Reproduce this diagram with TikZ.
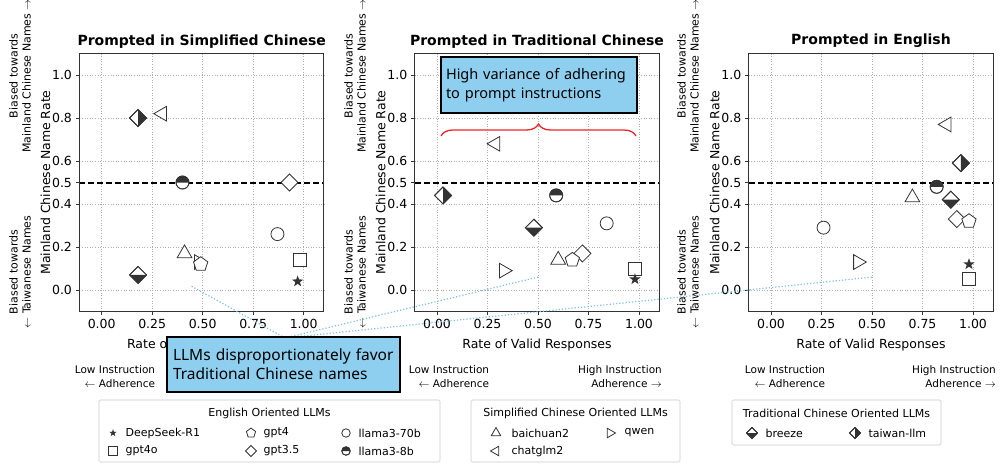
\documentclass[tikz,border=0pt]{standalone}
\usepackage{fontspec}
\setmainfont{DejaVu Sans}
\newfontfamily\callf{Noto Sans}
\usetikzlibrary{decorations.pathreplacing}
\definecolor{mkc}{HTML}{333333}
\definecolor{gridc}{HTML}{B0B0B0}
\definecolor{callc}{HTML}{8ECFF0}
\definecolor{linec}{HTML}{7EC0E0}
\definecolor{bracec}{HTML}{E8262A}
\tikzset{
  mkd/.style={draw=mkc,line width=0.8pt,fill=white},
  mkf/.style={fill=mkc},
  gridl/.style={gridc,dotted,line width=0.6pt},
  ticklab/.style={font=\fontsize{12.5}{14}\selectfont},
  side/.style={font=\fontsize{11}{13}\selectfont,align=center,rotate=90},
  adh/.style={font=\fontsize{10.5}{14}\selectfont,align=right},
  callout/.style={draw=black,line width=1.2pt,fill=callc,align=left,font=\callf\fontsize{15.5}{19}\selectfont,inner sep=6pt},
  leg/.style={draw=gridc!70,rounded corners=1.5pt,line width=0.6pt},
  legt/.style={font=\fontsize{11}{13}\selectfont,anchor=west},
  legh/.style={font=\fontsize{11}{13}\selectfont}
}
\newcommand\at[3][]{\begin{scope}[shift={(#2)},#1]#3\end{scope}}
\newcommand\mStar{\fill[mkf] (90:6pt) -- (126:2.4pt) -- (162:6pt) -- (198:2.4pt) -- (234:6pt) -- (270:2.4pt) -- (306:6pt) -- (342:2.4pt) -- (18:6pt) -- (54:2.4pt) -- cycle;}
\newcommand\mSq{\draw[mkd] (-6.5pt,-6.5pt) rectangle (6.5pt,6.5pt);}
\newcommand\mCirc{\draw[mkd] (0,0) circle (6.5pt);}
\newcommand\mHalfC{\draw[mkd] (0,0) circle (6.5pt); \fill[mkf] (6.5pt,0) arc (0:180:6.5pt) -- cycle; \draw[draw=mkc,line width=0.8pt] (0,0) circle (6.5pt);}
\newcommand\mPent{\draw[mkd] (90:7.5pt) -- (162:7.5pt) -- (234:7.5pt) -- (306:7.5pt) -- (18:7.5pt) -- cycle;}
\newcommand\mDia{\draw[mkd] (0,8.5pt) -- (8.5pt,0) -- (0,-8.5pt) -- (-8.5pt,0) -- cycle;}
\newcommand\mBreeze{\draw[mkd] (0,8.5pt) -- (8.5pt,0) -- (0,-8.5pt) -- (-8.5pt,0) -- cycle; \fill[mkf] (-8.5pt,0) -- (8.5pt,0) -- (0,-8.5pt) -- cycle; \draw[draw=mkc,line width=0.8pt] (0,8.5pt) -- (8.5pt,0) -- (0,-8.5pt) -- (-8.5pt,0) -- cycle;}
\newcommand\mTW{\draw[mkd] (0,8.5pt) -- (8.5pt,0) -- (0,-8.5pt) -- (-8.5pt,0) -- cycle; \fill[mkf] (0,8.5pt) -- (8.5pt,0) -- (0,-8.5pt) -- cycle; \draw[draw=mkc,line width=0.8pt] (0,8.5pt) -- (8.5pt,0) -- (0,-8.5pt) -- (-8.5pt,0) -- cycle;}
\newcommand\mTU{\draw[mkd] (90:8.5pt) -- (210:8.5pt) -- (330:8.5pt) -- cycle;}
\newcommand\mTL{\draw[mkd] (180:8.5pt) -- (300:8.5pt) -- (60:8.5pt) -- cycle;}
\newcommand\mTR{\draw[mkd] (0:8.5pt) -- (120:8.5pt) -- (240:8.5pt) -- cycle;}
\newcommand\panelframe[2]{%
  \foreach \g in {0,0.25,0.5,0.75,1} \draw[gridl] (\g,-0.1) -- (\g,1.1);
  \foreach \g in {0,0.2,0.4,0.6,0.8,1.0} \draw[gridl] (-0.11,\g) -- (1.1,\g);
  \draw[line width=2pt,dashed,dash pattern=on 6pt off 3pt] (-0.11,0.5) -- (1.1,0.5);
  \draw[line width=0.9pt,mkc] (-0.11,-0.1) rectangle (1.1,1.1);
  \foreach \g/\l in {0/0.00,0.25/0.25,0.5/0.50,0.75/0.75,1/1.00} {\draw[mkc,line width=0.8pt] (\g,-0.1) -- ++(0,-3.5pt); \node[ticklab,anchor=north] at ([yshift=-4pt]\g,-0.1) {\l};}
  \foreach \g/\l in {0/0.0,0.2/0.2,0.4/0.4,0.5/0.5,0.6/0.6,0.8/0.8,1/1.0} {\draw[mkc,line width=0.8pt] (-0.11,\g) -- ++(-3.5pt,0); \node[ticklab,anchor=east] at ([xshift=-4pt]-0.11,\g) {\l};}
  \node[font=\bfseries\fontsize{14}{16}\selectfont,anchor=south] (#1t) at ([yshift=2pt]0.495,1.1) {#2};
  \node[font=\fontsize{12.5}{14}\selectfont,rotate=90] (#1y) at ([xshift=-34pt]-0.11,0.5) {Mainland Chinese Name Rate};
  \node[font=\fontsize{12.5}{14}\selectfont,anchor=north] (#1x) at ([yshift=-24pt]0.495,-0.1) {Rate of Valid Responses};
}
\begin{document}
\begin{tikzpicture}[x=1pt,y=-1pt]
\useasboundingbox (0,0) rectangle (1000,468);
% side labels
\foreach \xx/\n in {20/a,355/b,688/c} {
  \node[side] (top\n) at (\xx,76) {Biased towards\\Mainland Chinese Names $\rightarrow$};
  \node[side] (bot\n) at (\xx,272) {Biased towards\\$\leftarrow$ Taiwanese Names};
}
% Panel 1
\begin{scope}[shift={(101.7,290)},x=202pt,y=215pt]
\panelframe{pa}{Prompted in Simplified Chinese}
\at{0.18,0.80}{\mTW}
\at{0.30,0.82}{\mTL}
\at{0.40,0.50}{\mHalfC}
\at{0.93,0.50}{\mDia}
\at{0.87,0.26}{\mCirc}
\at{0.41,0.17}{\mTU}
\at{0.48,0.13}{\mTR}
\at{0.49,0.12}{\mPent}
\at{0.18,0.07}{\mBreeze}
\at{0.98,0.14}{\mSq}
\at{0.97,0.04}{\mStar}
\coordinate (ta) at (0.44,0.02);
\end{scope}
% Panel 2
\begin{scope}[shift={(437,290)},x=202pt,y=215pt]
\panelframe{pb}{Prompted in Traditional Chinese}
\at{0.03,0.44}{\mTW}
\at{0.29,0.68}{\mTL}
\at{0.59,0.44}{\mHalfC}
\at{0.48,0.29}{\mBreeze}
\at{0.84,0.31}{\mCirc}
\at{0.72,0.17}{\mDia}
\at{0.67,0.14}{\mPent}
\at{0.60,0.14}{\mTU}
\at{0.33,0.09}{\mTR}
\at{0.98,0.10}{\mSq}
\at{0.98,0.05}{\mStar}
\coordinate (tb) at (0.50,0.06);
\end{scope}
% Panel 3
\begin{scope}[shift={(771,290)},x=202pt,y=215pt]
\panelframe{pc}{Prompted in English}
\at{0.87,0.77}{\mTL}
\at{0.94,0.59}{\mTW}
\at{0.82,0.48}{\mHalfC}
\at{0.89,0.42}{\mBreeze}
\at{0.70,0.43}{\mTU}
\at{0.92,0.33}{\mDia}
\at{0.98,0.32}{\mPent}
\at{0.26,0.29}{\mCirc}
\at{0.43,0.13}{\mTR}
\at{0.98,0.12}{\mStar}
\at{0.98,0.05}{\mSq}
\coordinate (tc) at (0.50,0.06);
\end{scope}
% adherence labels
\node[adh] (lowa) at (115,377) {Low Instruction\\$\leftarrow$ Adherence};
\node[adh] (lowb) at (449,377) {Low Instruction\\$\leftarrow$ Adherence};
\node[adh] (highb) at (620,377) {High Instruction\\Adherence $\rightarrow$};
\node[adh] (lowc) at (785,377) {Low Instruction\\$\leftarrow$ Adherence};
\node[adh] (highc) at (954,377) {High Instruction\\Adherence $\rightarrow$};
% callout lines
\coordinate (apex) at (285,338);
\foreach \t in {ta,tb,tc} \draw[linec,dotted,line width=1.2pt] (apex) -- (\t);
% callouts
\node[callout,minimum width=233pt,minimum height=55pt,text width=221pt] (callA) at (283.5,364.5) {LLMs disproportionately favor\\Traditional Chinese names};
\node[callout,minimum width=196pt,minimum height=56pt,text width=186pt,inner sep=5pt,font=\callf\fontsize{14.5}{19}\selectfont] (callB) at (539,85) {\hyphenpenalty=10000 High variance of adhering\\to prompt instructions};
\coordinate (brl) at (441,136);
\coordinate (brr) at (636,136);
\draw[bracec,line width=1.3pt,decorate,decoration={brace,amplitude=12pt}] (brl) -- (brr);
% legends
\draw[leg] (99,400) rectangle (440,462);
\node[legh] (lh1) at (269.5,413) {English Oriented LLMs};
\at[scale=0.65]{113,433}{\mStar} \node[legt] (l1) at (122,433) {DeepSeek-R1};
\at[scale=0.65]{113,451}{\mSq} \node[legt] (l2) at (122,451) {gpt4o};
\at[scale=0.65]{251,433}{\mPent} \node[legt] (l3) at (260,433) {gpt4};
\at[scale=0.65]{251,451}{\mDia} \node[legt] (l4) at (260,451) {gpt3.5};
\at[scale=0.65]{346,433}{\mCirc} \node[legt] (l5) at (355,433) {llama3-70b};
\at[scale=0.65]{346,451}{\mHalfC} \node[legt] (l6) at (355,451) {llama3-8b};
\draw[leg] (471,400) rectangle (680,462);
\node[legh] (lh2) at (575.5,413) {Simplified Chinese Oriented LLMs};
\at[scale=0.65]{496,433}{\mTU} \node[legt] (l7) at (508,433) {baichuan2};
\at[scale=0.65]{496,451}{\mTL} \node[legt] (l8) at (508,451) {chatglm2};
\at[scale=0.65]{610,433}{\mTR} \node[legt] (l9) at (621,433) {qwen};
\draw[leg] (732,400) rectangle (941,445);
\node[legh] (lh3) at (836.5,413) {Traditional Chinese Oriented LLMs};
\at[scale=0.65]{752,433}{\mBreeze} \node[legt] (l10) at (762,433) {breeze};
\at[scale=0.65]{855,433}{\mTW} \node[legt] (l11) at (865,433) {taiwan-llm};
\end{tikzpicture}
\end{document}
